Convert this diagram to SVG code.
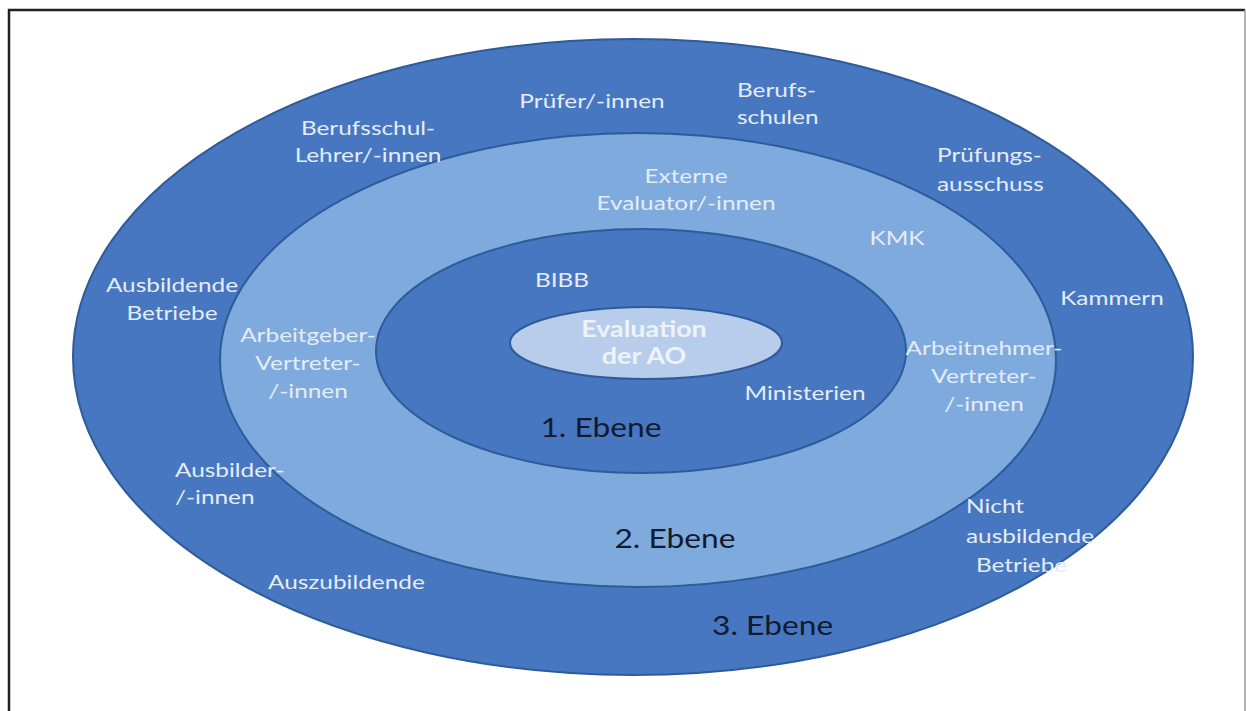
<svg xmlns="http://www.w3.org/2000/svg" width="1246" height="711" viewBox="0 0 1246 711">
<style>
.ring{stroke:#2e5c9a;stroke-width:2}
.lt{font-family:Lato,"Open Sans",sans-serif;font-size:19.5px;fill:#e4ecf7}
.dk{font-family:Lato,"Open Sans",sans-serif;font-size:26px;fill:#121a2c}
.ev{font-family:Lato,"Open Sans",sans-serif;font-size:22px;font-weight:bold;fill:#eef3fa}
</style>
<rect width="1246" height="711" fill="#ffffff"/>
<g id="frame" fill="none">
<path d="M9 711 V10 H1245" stroke="#222" stroke-width="2.5"/>
<path d="M1245 10 V711" stroke="#9a9a9a" stroke-width="1.5"/>
</g>
<g id="ebene3">
<ellipse class="ring" cx="633" cy="357" rx="560" ry="318" fill="#4677c0"/>
</g>
<g id="ebene2">
<ellipse class="ring" cx="638" cy="360" rx="418" ry="227" fill="#7faadd"/>
</g>
<g id="ebene1">
<ellipse class="ring" cx="641" cy="351" rx="265" ry="122" fill="#4677c0"/>
</g>
<g id="zentrum">
<ellipse class="ring" cx="646" cy="343" rx="136" ry="36" fill="#b7cdeb"/>
<text class="ev" text-anchor="middle" transform="matrix(1.22 0 0 1 644 337)"><tspan x="0" y="0">Evaluation</tspan><tspan x="0" y="27">der AO</tspan></text>
</g>
<g id="labels3">
<text class="lt" text-anchor="middle" transform="matrix(1.25 0 0 1 368 135)"><tspan x="0" y="0">Berufsschul-</tspan><tspan x="0" y="27">Lehrer/-innen</tspan></text>
<text class="lt" text-anchor="middle" transform="matrix(1.25 0 0 1 592 108)">Prüfer/-innen</text>
<text class="lt" transform="matrix(1.25 0 0 1 737 97)"><tspan x="0" y="0">Berufs-</tspan><tspan x="0" y="27">schulen</tspan></text>
<text class="lt" transform="matrix(1.25 0 0 1 937 162)"><tspan x="0" y="0">Prüfungs-</tspan><tspan x="0" y="29">ausschuss</tspan></text>
<text class="lt" text-anchor="middle" transform="matrix(1.25 0 0 1 1112 305)">Kammern</text>
<text class="lt" text-anchor="middle" transform="matrix(1.25 0 0 1 172 292)"><tspan x="0" y="0">Ausbildende</tspan><tspan x="0" y="28">Betriebe</tspan></text>
<text class="lt" transform="matrix(1.25 0 0 1 175 477)"><tspan x="0" y="0">Ausbilder-</tspan><tspan x="0" y="27">/-innen</tspan></text>
<text class="lt" transform="matrix(1.25 0 0 1 268 589)">Auszubildende</text>
<text class="lt" transform="matrix(1.25 0 0 1 966 513)"><tspan x="0" y="0">Nicht</tspan><tspan x="0" y="30">ausbildende</tspan><tspan x="8" y="59">Betriebe</tspan></text>
<text class="dk" transform="matrix(1.22 0 0 1 712 635)">3. Ebene</text>
</g>
<g id="labels2">
<text class="lt" text-anchor="middle" transform="matrix(1.25 0 0 1 686 183)"><tspan x="0" y="0">Externe</tspan><tspan x="0" y="27">Evaluator/-innen</tspan></text>
<text class="lt" text-anchor="middle" transform="matrix(1.25 0 0 1 897 245)">KMK</text>
<text class="lt" text-anchor="middle" transform="matrix(1.25 0 0 1 308 342)"><tspan x="0" y="0">Arbeitgeber-</tspan><tspan x="0" y="28">Vertreter-</tspan><tspan x="0" y="56">/-innen</tspan></text>
<text class="lt" text-anchor="middle" transform="matrix(1.25 0 0 1 984 355)"><tspan x="0" y="0">Arbeitnehmer-</tspan><tspan x="0" y="28">Vertreter-</tspan><tspan x="0" y="56">/-innen</tspan></text>
<text class="dk" text-anchor="middle" transform="matrix(1.22 0 0 1 675 548)">2. Ebene</text>
</g>
<g id="labels1">
<text class="lt" text-anchor="middle" transform="matrix(1.25 0 0 1 562 287)">BIBB</text>
<text class="lt" text-anchor="middle" transform="matrix(1.25 0 0 1 805 400)">Ministerien</text>
<text class="dk" text-anchor="middle" transform="matrix(1.22 0 0 1 601 437)">1. Ebene</text>
</g>
</svg>
